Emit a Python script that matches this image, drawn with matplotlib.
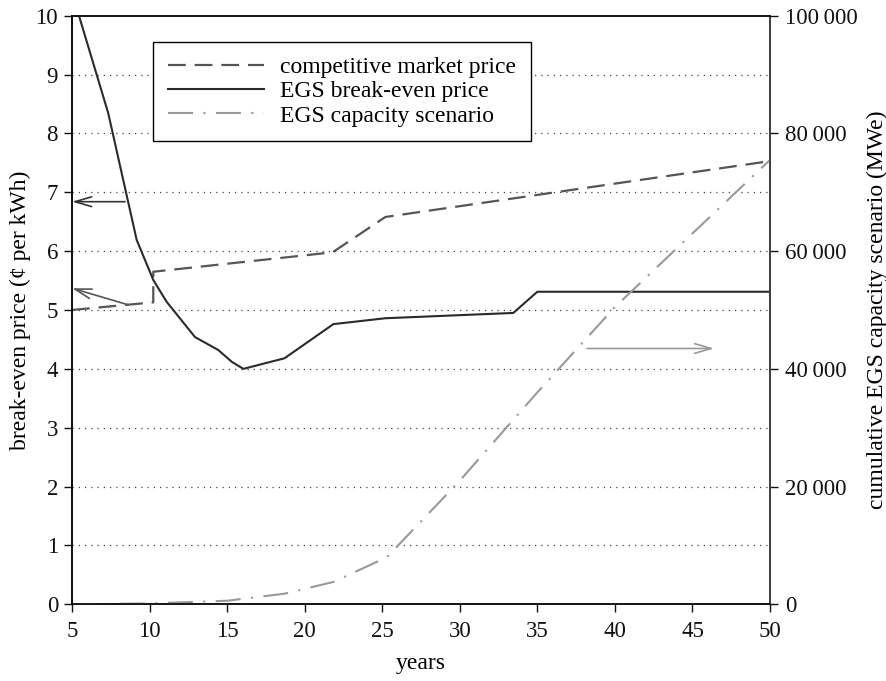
import numpy as np
import matplotlib.pyplot as plt

plt.rcParams['font.family'] = ['Liberation Serif', 'DejaVu Serif']

# competitive market price (cents per kWh)
market_years = [5, 8.6, 10.24, 10.24, 21.8, 25.2, 50]
market_price = [5.0, 5.09, 5.13, 5.65, 5.98, 6.58, 7.53]

# EGS break-even price (cents per kWh)
breakeven_years = [5.45, 7.34, 9.17, 10.24, 11.1, 12.93, 14.43, 15.3, 16.05,
                   18.7, 21.85, 25.2, 33.45, 35.0, 50]
breakeven_price = [10.0, 8.34, 6.19, 5.51, 5.14, 4.54, 4.32, 4.12, 4.0,
                   4.18, 4.76, 4.86, 4.95, 5.31, 5.31]

# cumulative EGS capacity (MWe)
capacity_years = [5, 10, 15, 18.7, 21.85, 25.3, 30, 35, 40, 45, 50]
capacity_mwe = [0, 150, 600, 1800, 3800, 8000, 21000, 36000, 50500, 63000, 75500]

xticks = [5, 10, 15, 20, 25, 30, 35, 40, 45, 50]
left_ticks = list(range(0, 11))
right_ticks = [0, 20000, 40000, 60000, 80000, 100000]
right_labels = ['0', '20\u2009000', '40\u2009000', '60\u2009000', '80\u2009000', '100\u2009000']

fig = plt.figure(figsize=(8.87, 6.81), dpi=100)
ax = fig.add_axes([72/887, 1-604.3/681, (770-72)/887, (604.3-15.7)/681])
ax2 = ax.twinx()

ax.set_xlim(5, 50)
ax.set_ylim(0, 10)
ax2.set_ylim(0, 100000)

# horizontal dotted grid
for v in left_ticks[1:-1]:
    ax.axhline(v, color='#444444', lw=0.9, ls=(0, (1, 4)), zorder=0)

l1, = ax.plot(market_years, market_price, color='#555555', lw=1.6,
              ls=(0, (8, 4)), label='competitive market price')
l2, = ax.plot(breakeven_years, breakeven_price, color='#2a2a2a', lw=1.5,
              label='EGS break-even price')
l3, = ax2.plot(capacity_years, capacity_mwe, color='#999999', lw=1.5,
               ls=(0, (12, 5, 1, 5)), label='EGS capacity scenario')

# arrows pointing to the relevant axis
ax.annotate('', xy=(5.0, 6.84), xytext=(8.42, 6.84),
            arrowprops=dict(arrowstyle='->,head_length=1.2,head_width=0.35',
                            color='#333333', lw=1.2, shrinkA=0, shrinkB=0))
ax.annotate('', xy=(5.0, 5.37), xytext=(8.6, 5.09),
            arrowprops=dict(arrowstyle='->,head_length=1.2,head_width=0.35',
                            color='#555555', lw=1.2, shrinkA=0, shrinkB=0))
ax2.annotate('', xy=(46.4, 43460), xytext=(38.2, 43460),
             arrowprops=dict(arrowstyle='->,head_length=1.2,head_width=0.35',
                             color='#999999', lw=1.2, shrinkA=0, shrinkB=0))

ax.set_xticks(xticks)
ax.set_yticks(left_ticks)
ax2.set_yticks(right_ticks)
ax2.set_yticklabels(right_labels)

ax.tick_params(axis='both', direction='out', length=6, width=1.0,
               labelsize=16.5, colors='#111111', pad=4)
ax.tick_params(axis='x', pad=6)
ax2.tick_params(axis='y', direction='out', length=6, width=1.0,
                labelsize=16.5, colors='#111111', pad=5)

ax.spines['left'].set_color('#111111')
ax.spines['bottom'].set_color('#444444')
ax.spines['top'].set_color('#444444')
ax2.spines['right'].set_color('#444444')
for s in ax2.spines.values():
    s.set_linewidth(1.1)
for s in ax.spines.values():
    s.set_linewidth(1.1)

ax.set_xlabel('years', fontsize=17, labelpad=8)
ax.set_ylabel('break-even price (¢ per kWh)', fontsize=17, labelpad=3)
ax2.set_ylabel('cumulative EGS capacity scenario (MWe)', fontsize=17, labelpad=6)

leg = ax2.legend(handles=[l1, l2, l3], loc='upper left',
                 bbox_to_anchor=(81/698, 1-26/588.6), fontsize=17,
                 frameon=True, fancybox=False, edgecolor='black',
                 framealpha=1, handlelength=4.1, handletextpad=0.68,
                 labelspacing=0.12, borderpad=0.62, borderaxespad=0)
leg.get_frame().set_linewidth(1.0)

fig.savefig('out.png', dpi=100)
